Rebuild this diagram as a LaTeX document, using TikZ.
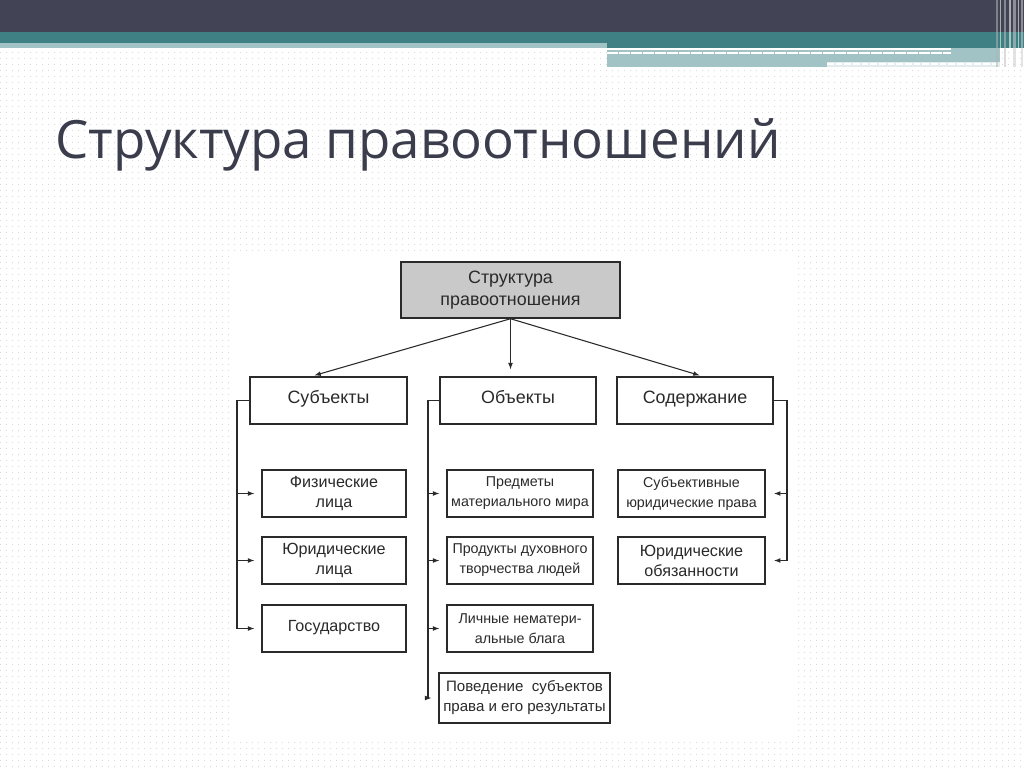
\documentclass[tikz,border=0pt]{standalone}
\usepackage{fontspec}
\setmainfont{Liberation Sans}
\newfontfamily\titlefont{Open Sans}
\usetikzlibrary{arrows.meta,patterns}
\pgfdeclarepatternformonly{slidedots}{\pgfqpoint{-1pt}{-1pt}}{\pgfqpoint{4.5pt}{4.5pt}}{\pgfqpoint{4.5pt}{4.5pt}}{%
  \pgfpathrectangle{\pgfqpoint{0pt}{0pt}}{\pgfqpoint{1.1pt}{1.1pt}}\pgfusepath{fill}}
\definecolor{darkbar}{HTML}{424456}
\definecolor{tealbar}{HTML}{3F8084}
\definecolor{lightteal}{HTML}{A2C3C6}
\definecolor{titlecol}{HTML}{3B3C4C}
\definecolor{dotcol}{HTML}{DADADA}
\definecolor{ink}{HTML}{2A2A2A}
\definecolor{boxgray}{HTML}{C9C9C9}
\begin{document}
\begin{tikzpicture}[x=0.75pt,y=-0.75pt,
  bx/.style 2 args={draw=ink,line width=1.1pt,minimum width=#1*0.75pt,minimum height=#2*0.75pt,inner sep=0pt,align=center,text=ink},
  one/.style={text height=0.72em,text depth=0.22em},
  big/.style={font=\fontsize{13.4}{16}\selectfont},
  mid/.style={font=\fontsize{12.1}{15}\selectfont},
  small/.style={font=\fontsize{10.7}{15}\selectfont},
  conn/.style={draw=ink,line width=0.8pt},
  arr/.style={conn,-{Latex[length=5pt,width=3.6pt]}}]
\useasboundingbox (0,0) rectangle (1024,767);
% slide background
\fill[white] (0,0) rectangle (1024,767);
\fill[pattern=slidedots,pattern color=dotcol] (0,48) rectangle (1024,767);
% header
\fill[darkbar] (0,0) rectangle (1024,32);
\fill[tealbar] (0,32) rectangle (1024,43);
\fill[lightteal] (0,43) rectangle (607,48);
\fill[tealbar] (607,43) rectangle (1024,48);
\fill[lightteal] (607,48) rectangle (1000,67);
\fill[white] (607,48) rectangle (951,50);
\draw[white,line width=1.6pt,dash pattern=on 8pt off 1pt] (607,53) -- (951,53);
\fill[white,opacity=0.7] (827,62) rectangle (1000,67);
\draw[white,line width=1.2pt,dash pattern=on 5pt off 1.5pt] (827,64) -- (1000,64);
\foreach \xx/\cc/\ww in {996/gray!60/2.2,1000/white/1.2,1004/gray!50/2,1009/white/1.5,1013/gray!40/2.5,1018/white/1.3,1021/gray!40/1.5}{
  \fill[\cc,opacity=0.55] (\xx,0) rectangle (\xx+\ww,67);}
% title
\node[anchor=base west,inner sep=0pt,text=titlecol,font=\titlefont\fontsize{39.6}{46}\selectfont] (title) at (55,158) {Структура правоотношений};
% scanned diagram area
\fill[white] (231,252) rectangle (794,737);
% nodes
\node[bx={219}{56},fill=boxgray,big] (top) at (510.5,290) {Структура\\правоотношения};
\node[bx={157}{47},big,one] (subj) at (328.5,400.5) {Субъекты};
\node[bx={156}{47},big,one] (obj) at (518,400.5) {Объекты};
\node[bx={156}{47},big,one] (cont) at (695,400.5) {Содержание};
\node[bx={144}{47},mid] (s1) at (334,493.5) {Физические\\лица};
\node[bx={144}{47},mid] (s2) at (334,560.5) {Юридические\\лица};
\node[bx={144}{47},mid,one] (s3) at (334,628.5) {Государство};
\node[bx={146}{47},small] (o1) at (520,493.5) {Предметы\\материального мира};
\node[bx={146}{47},small] (o2) at (520,560.5) {Продукты духовного\\творчества людей};
\node[bx={146}{47},small] (o3) at (520,628.5) {Личные нематери-\\альные блага};
\node[bx={171}{50},font=\fontsize{11.3}{15}\selectfont] (o4) at (524.5,698) {Поведение\ \ субъектов\\права и его результаты};
\node[bx={147}{47},small] (c1) at (691.5,493.5) {Субъективные\\юридические права};
\node[bx={147}{47},mid] (c2) at (691.5,560.5) {Юридические\\обязанности};
% bracket corner points
\coordinate (ls) at (237,400.5);
\coordinate (le) at (237,628.5);
\coordinate (os) at (428,400.5);
\coordinate (oe) at (428,698);
\coordinate (cs) at (787,400.5);
\coordinate (ce) at (787,560.5);
% top arrows
\draw[arr,shorten >=4pt] (top.south) -- (309,377);
\draw[arr,shorten >=5pt] (top.south) -- (obj.north -| top.south);
\draw[arr,shorten >=4pt] (top.south) -- (705,377);
% subjects bracket
\draw[conn] (subj.west) -- (ls) -- (le);
\foreach \n in {s1,s2,s3}{\draw[arr,shorten >=5pt] (\n.west -| ls) -- (\n.west);}
% objects bracket
\draw[conn] (obj.west) -- (os) -- (oe);
\foreach \n in {o1,o2,o3,o4}{\draw[arr,shorten >=5pt] (\n.west -| os) -- (\n.west);}
% content bracket
\draw[conn] (cont.east) -- (cs) -- (ce);
\foreach \n in {c1,c2}{\draw[arr,shorten >=6pt] (\n.east -| cs) -- (\n.east);}
\end{tikzpicture}
\end{document}
